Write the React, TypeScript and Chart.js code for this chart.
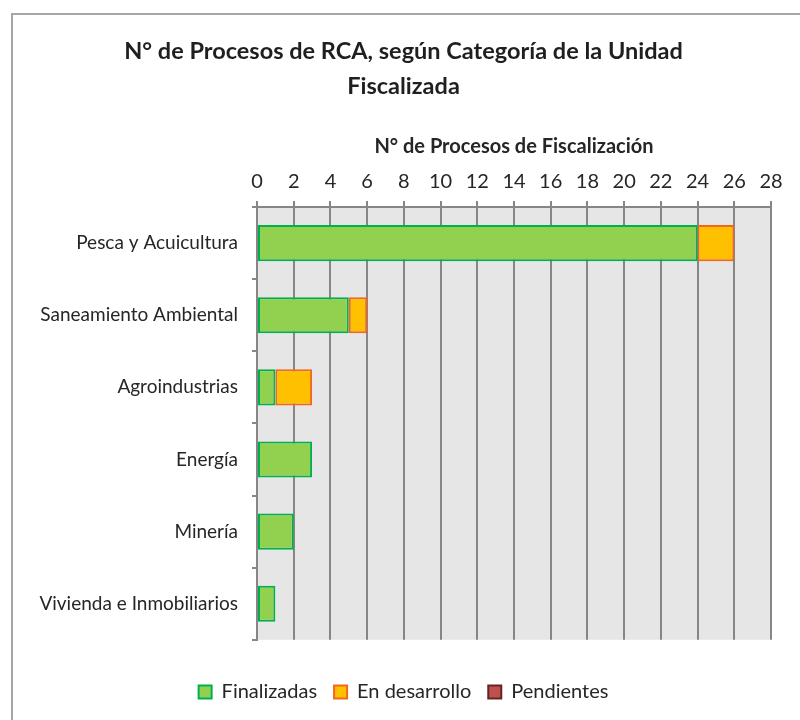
import React, { useEffect, useRef } from 'react';
import { Chart, registerables } from 'chart.js';

Chart.register(...registerables);

const categories = [
  'Pesca y Acuicultura',
  'Saneamiento Ambiental',
  'Agroindustrias',
  'Energía',
  'Minería',
  'Vivienda e Inmobiliarios',
];
const finalizadas = [24, 5, 1, 3, 2, 1];
const enDesarrollo = [2, 1, 2, 0, 0, 0];
const pendientes = [0, 0, 0, 0, 0, 0];
const seriesNames = ['Finalizadas', 'En desarrollo', 'Pendientes'];
const xMin = 0;
const xMax = 28;
const xStep = 2;
const titleLines = ['N° de Procesos de RCA, según Categoría de la Unidad', 'Fiscalizada'];
const axisTitle = 'N° de Procesos de Fiscalización';

const FONT = "Lato, 'Open Sans', sans-serif";
const TEXT = '#262626';
const GRID = '#868686';

const plotBg = {
  id: 'plotBg',
  beforeDraw(chart: any) {
    const { ctx, chartArea } = chart;
    if (!chartArea) return;
    ctx.save();
    ctx.fillStyle = '#e6e6e6';
    ctx.fillRect(chartArea.left, chartArea.top, chartArea.right - chartArea.left, chartArea.bottom - chartArea.top);
    ctx.restore();
  },
};

export default function App() {
  const ref = useRef<HTMLCanvasElement | null>(null);

  useEffect(() => {
    if (!ref.current) return;
    const chart = new Chart(ref.current, {
      type: 'bar',
      data: {
        labels: categories,
        datasets: [
          {
            label: seriesNames[0],
            data: finalizadas,
            backgroundColor: '#92d050',
            borderColor: '#00b050',
            borderWidth: 2,
            borderSkipped: false,
            inflateAmount: 0,
          },
          {
            label: seriesNames[1],
            data: enDesarrollo,
            backgroundColor: '#ffc000',
            borderColor: '#f4661b',
            borderWidth: 2,
            borderSkipped: false,
            inflateAmount: 0,
          },
          {
            label: seriesNames[2],
            data: pendientes,
            backgroundColor: '#c0504d',
            borderColor: '#632523',
            borderWidth: 2,
            borderSkipped: false,
            inflateAmount: 0,
          },
        ],
      },
      options: {
        indexAxis: 'y',
        animation: false,
        responsive: false,
        maintainAspectRatio: false,
        layout: { padding: { left: 36, right: 29, top: 0, bottom: 8 } },
        datasets: {
          bar: { barPercentage: 0.5, categoryPercentage: 1 },
        },
        scales: {
          x: {
            position: 'top',
            stacked: true,
            min: xMin,
            max: xMax,
            afterFit: (s: any) => {
              s.height = 75;
            },
            ticks: {
              stepSize: xStep,
              color: TEXT,
              font: { family: FONT, size: 20 },
              padding: 7,
            },
            grid: {
              color: GRID,
              lineWidth: 2,
              tickLength: 6,
              drawOnChartArea: true,
            },
            border: { display: true, color: GRID, width: 2 },
            title: {
              display: true,
              text: axisTitle,
              color: TEXT,
              font: { family: FONT, size: 20, weight: 'bold' },
              padding: { top: 3, bottom: 4 },
            },
          },
          y: {
            stacked: true,
            afterFit: (s: any) => {
              s.width = 221;
            },
            ticks: {
              color: TEXT,
              font: { family: FONT, size: 19 },
              padding: 14,
            },
            grid: {
              offset: true,
              drawOnChartArea: false,
              color: GRID,
              lineWidth: 2,
              tickLength: 5,
            },
            border: { display: true, color: GRID, width: 2 },
          },
        },
        plugins: {
          title: {
            display: true,
            text: titleLines,
            color: '#1f1f1f',
            font: { family: FONT, size: 23.5, weight: 'bold', lineHeight: 1.49 },
            padding: { top: 34, bottom: 28 },
          },
          legend: {
            position: 'bottom',
            title: {
              display: true,
              text: ' ',
              font: { size: 1 },
              padding: { top: 0, bottom: 24 },
            },
            labels: {
              color: TEXT,
              font: { family: FONT, size: 20 },
              boxWidth: 13,
              boxHeight: 13,
              padding: 17,
            },
          },
          tooltip: { enabled: false },
        },
      },
      plugins: [plotBg],
    });
    return () => chart.destroy();
  }, []);

  return (
    <div style={{ position: 'fixed', left: 0, top: 0, width: 800, height: 720, background: '#fff' }}>
      <div
        style={{
          position: 'absolute',
          left: 11,
          top: 13,
          right: 0,
          bottom: 0,
          borderTop: '2px solid #a6a6a6',
          borderLeft: '2px solid #a6a6a6',
        }}
      />
      <canvas ref={ref} width={800} height={720} style={{ position: 'absolute', left: 0, top: 0, width: 800, height: 720 }} />
    </div>
  );
}
